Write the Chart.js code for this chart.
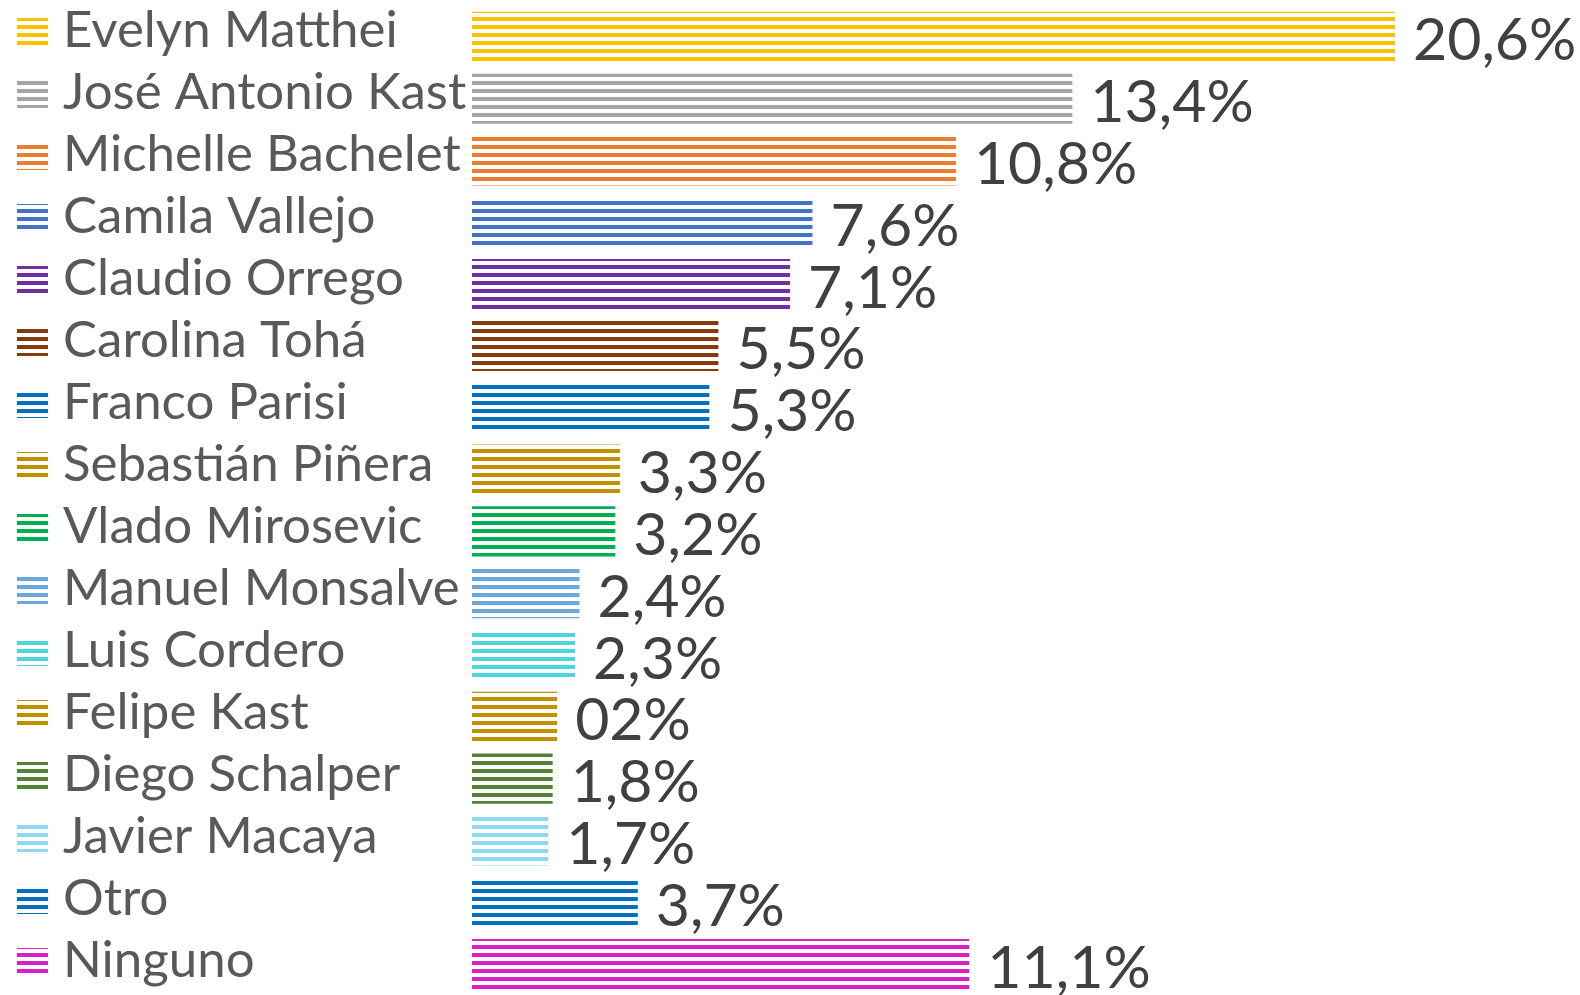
<!DOCTYPE html>
<html>
<head>
<meta charset="utf-8">
<script src="https://cdn.jsdelivr.net/npm/chart.js@4.4.0/dist/chart.umd.min.js"></script>
<style>
html,body{margin:0;padding:0;background:#fff;}
#wrap{width:1580px;height:995px;}
</style>
</head>
<body>
<div id="wrap"><canvas id="c" width="1580" height="995"></canvas></div>
<script>
const categories = ['Evelyn Matthei','José Antonio Kast','Michelle Bachelet','Camila Vallejo','Claudio Orrego','Carolina Tohá','Franco Parisi','Sebastián Piñera','Vlado Mirosevic','Manuel Monsalve','Luis Cordero','Felipe Kast','Diego Schalper','Javier Macaya','Otro','Ninguno'];
const values = [20.6,13.4,10.8,7.6,7.1,5.5,5.3,3.3,3.2,2.4,2.3,1.9,1.8,1.7,3.7,11.1];
const valueLabels = ['20,6%','13,4%','10,8%','7,6%','7,1%','5,5%','5,3%','3,3%','3,2%','2,4%','2,3%','02%','1,8%','1,7%','3,7%','11,1%'];
const colors = ['#FFC000','#A5A5A5','#ED7D31','#4472C4','#7030A0','#843C0C','#0070C0','#BF8F00','#00B050','#6AA8DC','#4DD5DE','#BF8F00','#538135','#8FD8F2','#0070C0','#D822C8'];

function stripe(color){
  const c = document.createElement('canvas');
  c.width = 8; c.height = 8;
  const g = c.getContext('2d');
  g.fillStyle = color;
  g.fillRect(0,1,8,4);
  return document.getElementById('c').getContext('2d').createPattern(c,'repeat');
}
const patterns = colors.map(stripe);

const labelPlugin = {
  id:'labelPlugin',
  afterDatasetsDraw(chart){
    const ctx = chart.ctx;
    const meta = chart.getDatasetMeta(0);
    ctx.save();
    meta.data.forEach((bar,i)=>{
      const yc = bar.y;
      const ly = yc + 10 + i*0.2;
      // icon
      ctx.fillStyle = patterns[i];
      ctx.fillRect(17, Math.round(ly-29), 31, 28);
      // category label
      ctx.fillStyle = '#595959';
      ctx.font = '51px Lato';
      ctx.textAlign = 'left';
      ctx.textBaseline = 'alphabetic';
      ctx.fillText(categories[i], 63, ly);
      // value label
      ctx.fillStyle = '#404040';
      ctx.font = '59px Lato';
      ctx.fillText(valueLabels[i], bar.x+18, yc+23.5);
    });
    ctx.restore();
  }
};

new Chart(document.getElementById('c'), {
  type:'bar',
  data:{
    labels: categories,
    datasets:[{
      data: values,
      backgroundColor: patterns,
      borderWidth: 0,
      barPercentage: 0.81,
      categoryPercentage: 1
    }]
  },
  options:{
    indexAxis:'y',
    responsive:false,
    animation:false,
    layout:{padding:{left:472,right:0,top:6,bottom:0}},
    scales:{
      x:{display:false,min:0,max:24.73},
      y:{display:false}
    },
    plugins:{legend:{display:false},tooltip:{enabled:false}}
  },
  plugins:[labelPlugin]
});
</script>
</body>
</html>
